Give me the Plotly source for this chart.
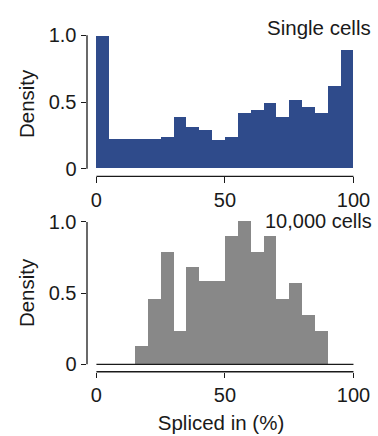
import plotly.graph_objects as go

bin_starts = list(range(0, 100, 5))
single_cells = [0.99, 0.217, 0.217, 0.217, 0.217, 0.237, 0.383, 0.310, 0.285, 0.212,
                0.237, 0.415, 0.437, 0.488, 0.388, 0.512, 0.463, 0.415, 0.615, 0.89]
pooled_cells = [0, 0, 0, 0.126, 0.458, 0.789, 0.233, 0.680, 0.584, 0.584,
                0.904, 1.007, 0.789, 0.904, 0.458, 0.570, 0.343, 0.233, 0, 0]
x_ticks = [0, 50, 100]
y_ticks = [0, 0.5, 1.0]
y_ticktext = ["0", "0.5", "1.0"]

BLUE = "#2f4b8b"
GRAY = "#888888"
INK = "#1a1a1a"
FONT = "Liberation Sans, Arial, Helvetica, sans-serif"
TICK_SIZE = 20
TITLE_SIZE = 20.5

fig = go.Figure()

# bottom panel zero baseline
fig.add_trace(go.Scatter(x=[bin_starts[0], bin_starts[-1] + 5], y=[0, 0], mode="lines",
                         line=dict(color=INK, width=1.3), xaxis="x2", yaxis="y2",
                         showlegend=False, hoverinfo="skip"))
fig.add_trace(go.Bar(x=bin_starts, y=single_cells, width=5, offset=0,
                     marker=dict(color=BLUE, line=dict(width=0)),
                     xaxis="x", yaxis="y", showlegend=False))
fig.add_trace(go.Bar(x=bin_starts, y=pooled_cells, width=5, offset=0,
                     marker=dict(color=GRAY, line=dict(width=0)),
                     xaxis="x2", yaxis="y2", showlegend=False))

W, H = 378, 436
L, R = 87, 23
def dom(top_px, bot_px):
    return [1 - bot_px / H, 1 - top_px / H]
def px_x(px):
    return (px - L) / (W - L - R)

axis_common = dict(showgrid=False, zeroline=False, showline=False, ticks="outside",
                   ticklen=5.5, tickwidth=1.3, tickcolor=INK,
                   tickfont=dict(family=FONT, size=TICK_SIZE, color=INK))

xr = [-3.67, 100.6]
fig.update_layout(
    width=W, height=H,
    margin=dict(l=L, r=R, t=0, b=0),
    paper_bgcolor="white", plot_bgcolor="white",
    bargap=0,
    font=dict(family=FONT, size=TITLE_SIZE, color=INK),
    xaxis=dict(domain=[0, 1], range=xr, tickvals=x_ticks, anchor="y", **axis_common),
    yaxis=dict(domain=dom(25, 173.3), range=[-0.056, 1.029], tickvals=y_ticks,
               ticktext=y_ticktext, anchor="x",
               title=dict(text="Density", font=dict(size=TITLE_SIZE), standoff=8), **axis_common),
    xaxis2=dict(domain=[0, 1], range=xr, tickvals=x_ticks, anchor="y2",
                title=dict(text="Spliced in (%)", font=dict(size=TITLE_SIZE), standoff=10),
                **axis_common),
    yaxis2=dict(domain=dom(212, 373.3), range=[-0.052, 1.055], tickvals=y_ticks,
                ticktext=y_ticktext, anchor="x2",
                title=dict(text="Density", font=dict(size=TITLE_SIZE), standoff=8), **axis_common),
)

line = dict(color=INK, width=1.3)
for xa, ya in [("x", "y"), ("x2", "y2")]:
    fig.add_shape(type="line", xref=f"{xa} domain", yref=ya, x0=0, x1=0, y0=0, y1=1, line=line)
    fig.add_shape(type="line", xref=xa, yref=f"{ya} domain", x0=0, x1=100, y0=0, y1=0, line=line)

fig.add_annotation(text="Single cells", xref="paper", yref="paper", x=px_x(373),
                   y=1 - 21 / H, xanchor="right", yanchor="middle", showarrow=False,
                   font=dict(family=FONT, size=TITLE_SIZE, color=INK))
fig.add_annotation(text="10,000 cells", xref="paper", yref="paper", x=px_x(373),
                   y=1 - 219 / H, xanchor="right", yanchor="middle", showarrow=False,
                   borderpad=0,
                   font=dict(family=FONT, size=20, color=INK))

fig.write_html("out.html")
